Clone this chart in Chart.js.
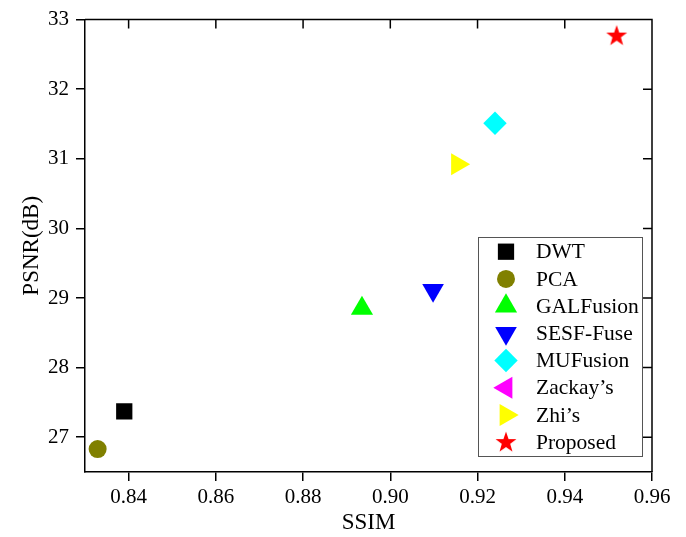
<!DOCTYPE html>
<html>
<head>
<meta charset="utf-8">
<script src="https://cdn.jsdelivr.net/npm/chart.js@4/dist/chart.umd.min.js"></script>
<style>
  body { margin: 0; background: #fff; }
</style>
</head>
<body>
<canvas id="psnrChart" width="686" height="537"></canvas>
<script>
// values (SSIM, PSNR)
const methods = ['DWT', 'PCA', 'GALFusion', 'SESF-Fuse', 'MUFusion', 'Zackay\u2019s', 'Zhi\u2019s', 'Proposed'];
const ssimValues = [0.8390, 0.8329, 0.8935, 0.9098, 0.9240, null, 0.9154, 0.9519];
const psnrValues = [27.37, 26.83, 28.85, 29.11, 31.51, null, 30.92, 32.77];
const xTicks = [0.84, 0.86, 0.88, 0.90, 0.92, 0.94, 0.96];
const yTicks = [27, 28, 29, 30, 31, 32, 33];

const colors = ['#000000', '#808000', '#00ff00', '#0000ff', '#00ffff', '#ff00ff', '#ffff00', '#ff0000'];
const serif = "'Liberation Serif', 'Times New Roman', serif";

// filled five point star, Chart.js 'star' is only an asterisk
function makeStar(color) {
    const c = document.createElement('canvas');
    c.width = 24;
    c.height = 24;
    const g = c.getContext('2d');
    const R = 11, r = 4.4;
    g.beginPath();
    for (let i = 0; i < 10; i++) {
        const rad = (i % 2 === 0 ? R : r);
        const a = -Math.PI / 2 + i * Math.PI / 5;
        const px = 12 + rad * Math.cos(a);
        const py = 12.5 + rad * Math.sin(a);
        if (i === 0) g.moveTo(px, py); else g.lineTo(px, py);
    }
    g.closePath();
    g.fillStyle = color;
    g.fill();
    return c;
}

const markers = [
    { pointStyle: 'rect', radius: 11.5, rotation: 0 },
    { pointStyle: 'circle', radius: 9, rotation: 0 },
    { pointStyle: 'triangle', radius: 12.8, rotation: 0 },
    { pointStyle: 'triangle', radius: 12.5, rotation: 180 },
    { pointStyle: 'rectRot', radius: 11.7, rotation: 0 },
    { pointStyle: 'triangle', radius: 12.7, rotation: 270 },
    { pointStyle: 'triangle', radius: 12.7, rotation: 90 },
    { pointStyle: makeStar('#ff0000'), radius: 11, rotation: 0 }
];

const datasets = methods.map((name, i) => ({
    label: name,
    data: ssimValues[i] === null ? [] : [{ x: ssimValues[i], y: psnrValues[i] }],
    backgroundColor: colors[i],
    borderWidth: 0,
    pointStyle: markers[i].pointStyle,
    pointRadius: markers[i].radius,
    pointHoverRadius: markers[i].radius,
    rotation: markers[i].rotation
}));

// frame on top/right with inward ticks
const framePlugin = {
    id: 'frame',
    afterDraw(chart) {
        const ctx = chart.ctx;
        const a = chart.chartArea;
        const xs = chart.scales.x, ys = chart.scales.y;
        ctx.save();
        ctx.strokeStyle = '#000';
        ctx.lineWidth = 1.5;
        ctx.beginPath();
        ctx.moveTo(a.left, a.top);
        ctx.lineTo(a.right, a.top);
        ctx.lineTo(a.right, a.bottom);
        xTicks.forEach(v => {
            const px = xs.getPixelForValue(v);
            ctx.moveTo(px, a.top);
            ctx.lineTo(px, a.top + 9);
        });
        yTicks.forEach(v => {
            const py = ys.getPixelForValue(v);
            ctx.moveTo(a.right, py);
            ctx.lineTo(a.right - 9, py);
        });
        ctx.stroke();
        ctx.restore();
    }
};

// legend box inside the plot, lower right
const boxLegend = {
    id: 'boxLegend',
    afterDraw(chart) {
        const ctx = chart.ctx;
        const left = 478, top = 237, w = 164, h = 219;
        const rowH = 27.2, firstY = 251.7;
        ctx.save();
        ctx.fillStyle = '#fff';
        ctx.fillRect(left, top, w, h);
        ctx.strokeStyle = '#555';
        ctx.lineWidth = 1;
        ctx.strokeRect(left + 0.5, top + 0.5, w, h);
        chart.data.datasets.forEach((ds, i) => {
            const y = firstY + i * rowH;
            ctx.fillStyle = ds.backgroundColor;
            Chart.helpers.drawPoint(ctx, {
                pointStyle: ds.pointStyle,
                radius: ds.pointRadius,
                rotation: ds.rotation,
                borderWidth: 0
            }, 506, y);
            ctx.fillStyle = '#000';
            ctx.font = '21.5px ' + serif;
            ctx.textAlign = 'left';
            ctx.textBaseline = 'middle';
            ctx.fillText(ds.label, 536, y + 1);
        });
        ctx.restore();
    }
};

new Chart(document.getElementById('psnrChart').getContext('2d'), {
    type: 'scatter',
    data: { datasets: datasets },
    options: {
        responsive: false,
        animation: false,
        layout: { padding: { top: 15, right: 34, left: 0, bottom: 0 } },
        scales: {
            x: {
                type: 'linear',
                min: 0.83,
                max: 0.96,
                afterBuildTicks: s => { s.ticks = xTicks.map(v => ({ value: v })); },
                afterFit: s => { s.height = 65; },
                grid: { drawOnChartArea: false, tickLength: 9, color: '#000', lineWidth: 1.5 },
                border: { color: '#000', width: 1.5 },
                ticks: {
                    color: '#000',
                    padding: 4,
                    maxRotation: 0,
                    font: { family: serif, size: 21 },
                    callback: v => v.toFixed(2)
                },
                title: {
                    display: true,
                    text: 'SSIM',
                    color: '#000',
                    font: { family: serif, size: 23 },
                    padding: { top: 0, bottom: 0 }
                }
            },
            y: {
                type: 'linear',
                min: 26.5,
                max: 33,
                afterBuildTicks: s => { s.ticks = yTicks.map(v => ({ value: v })); },
                afterFit: s => { s.width = 85; },
                grid: { drawOnChartArea: false, tickLength: 9, color: '#000', lineWidth: 1.5 },
                border: { color: '#000', width: 1.5 },
                ticks: {
                    color: '#000',
                    padding: 7,
                    font: { family: serif, size: 21 },
                    callback: v => String(v)
                },
                title: {
                    display: true,
                    text: 'PSNR(dB)',
                    color: '#000',
                    font: { family: serif, size: 23 },
                    padding: { top: 18, bottom: 0 }
                }
            }
        },
        plugins: {
            legend: { display: false },
            tooltip: { enabled: false }
        }
    },
    plugins: [framePlugin, boxLegend]
});
</script>
</body>
</html>
